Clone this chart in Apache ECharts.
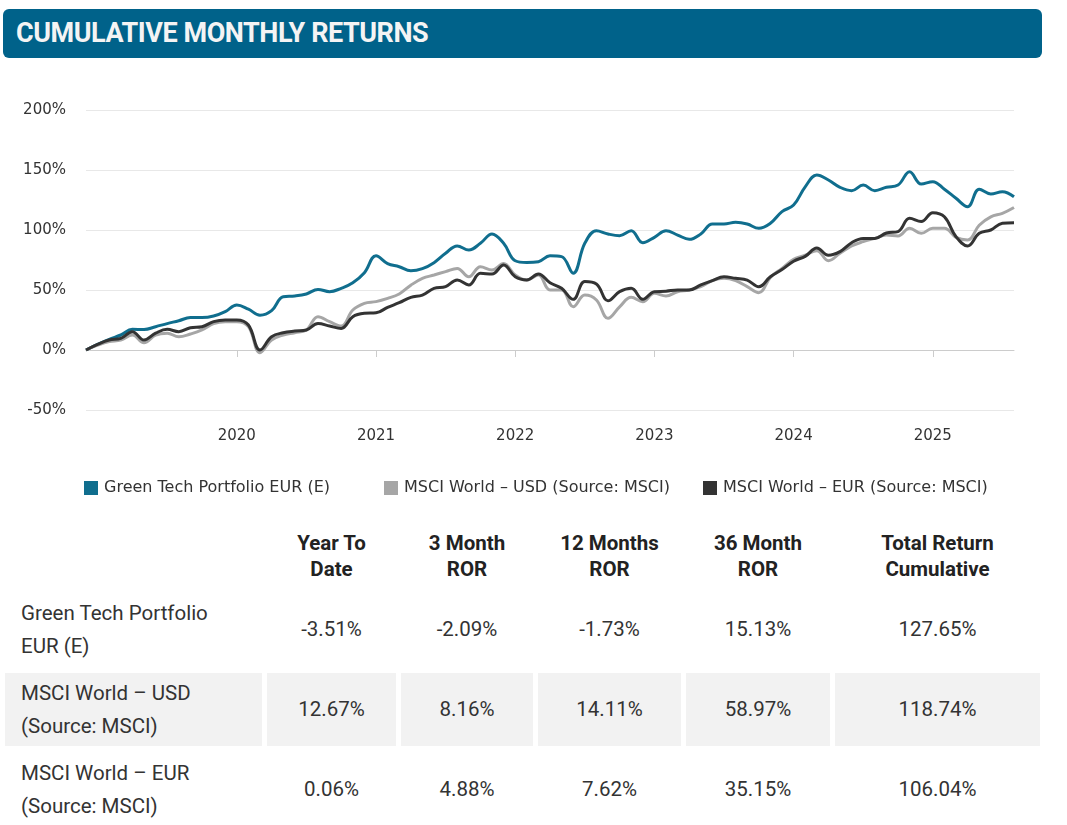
<!DOCTYPE html>
<html>
<head>
<meta charset="utf-8">
<script src="https://cdn.jsdelivr.net/npm/echarts@6/dist/echarts.min.js"></script>
<style>
  html, body { margin:0; padding:0; background:#fff; width:1067px; height:825px; overflow:hidden; }
  #title { position:absolute; left:3px; top:9px; width:1039px; height:49px; background:#00628a; border-radius:6px;
    color:#f4f4f4; font-family:Roboto, "Noto Sans", sans-serif; font-weight:700; font-size:27px; line-height:49px;
    padding-left:13px; box-sizing:border-box; letter-spacing:-0.45px; }
  #chart { position:absolute; left:0; top:0; width:1067px; height:515px; }
  table { position:absolute; left:0; top:518px; border-collapse:separate; border-spacing:5px 7px;
    font-family:Roboto, "Noto Sans", sans-serif; font-size:20.5px; color:#333; }
  th { font-weight:700; color:#222; line-height:26px; height:61px; padding:0; text-align:center; vertical-align:middle; }
  td { height:73px; padding:0; text-align:center; vertical-align:middle; line-height:33px; }
  td.name { text-align:left; padding-left:16px; box-sizing:border-box; }
  tr.shade td { background:#f2f2f2; }
</style>
</head>
<body>
<div id="chart"></div>
<div id="title">CUMULATIVE MONTHLY RETURNS</div>
<table id="tbl"></table>
<script>
// ---- data ----
const startYear = 2018, startMonth = 12, monthCount = 81;
const greenTech = [0,4.7,8.9,12.5,17.2,17,19.4,22,24.4,27,27,28.3,32,37.5,34,29,32.8,44.4,45,46.7,
  50.5,48.6,51.4,56,64.4,78.5,72,69.4,66,67.8,72.8,80.6,86.7,83.3,88.9,96.7,88.9,74.4,73,73.6,
  78.5,77.8,64,88.9,99.4,96.7,95.3,99.4,89.4,93.9,99.4,95.8,92.2,96.7,105,105,106.4,105,101.4,105.6,
  115.3,120.8,136,145.8,141.7,135.6,132.8,137.5,132.8,135.6,137.5,148.6,138.3,140.3,134,126.4,119.4,134,130,131.9,
  127.65];
const msciUsd = [0,4,7,8.3,12.5,6,12.5,14,11,13.3,16.7,22,23.6,23.6,19.4,-2.2,8.3,12.5,14.4,16.7,
  27.8,23.6,20,33.3,38.9,40.3,43,46.7,54,59.7,62.5,65.3,68,61,69.4,66.7,72,62.5,58.3,62.5,
  50,50,36,45.8,41.7,26.4,36,43.9,40.3,47.2,45,48.6,50,52.8,57.8,59.7,57.8,52.8,47.8,60.5,
  68,75.6,79,82.8,74.4,80.6,86.7,90.3,93,95.8,95,101.4,97.2,101.4,101.4,93.9,91.7,104,111,113.9,
  118.74];
const msciEur = [0,4.7,8.3,9.7,15.3,8.3,14,17.2,15.3,18.6,19.4,23.6,25,25,20.8,0,11,14.4,15.8,16.7,
  22,20,18,27.8,30.6,31,35.5,39.4,43.9,45.8,51.4,52.8,58.3,54.2,63.9,63.3,70.8,61,58.3,63.3,
  56,51.4,42.2,57,55,41,48.6,51.4,42.2,48.6,49,50,50,54.2,57.8,61,59.7,58.3,52.8,61,
  67,74,78,85,79,82,89.4,93,93,97.5,98.6,109.7,107,114.4,111,94.4,86.7,97.2,100,105.6,
  106.04];
const seriesNames = ['Green Tech Portfolio EUR (E)', 'MSCI World \u2013 USD (Source: MSCI)', 'MSCI World \u2013 EUR (Source: MSCI)'];
const yearTicks = ['2020', '2021', '2022', '2023', '2024', '2025'];
const tableHeaders = ['Year To<br>Date', '3 Month<br>ROR', '12 Months<br>ROR', '36 Month<br>ROR', 'Total Return<br>Cumulative'];
const tableRowNames = ['Green Tech Portfolio<br>EUR (E)', 'MSCI World \u2013 USD<br>(Source: MSCI)', 'MSCI World \u2013 EUR<br>(Source: MSCI)'];
const rowGreen = ['-3.51%', '-2.09%', '-1.73%', '15.13%', '127.65%'];
const rowUsd = ['12.67%', '8.16%', '14.11%', '58.97%', '118.74%'];
const rowEur = ['0.06%', '4.88%', '7.62%', '35.15%', '106.04%'];

// month labels
const months = [];
{
  let y = startYear, m = startMonth;
  for (let i = 0; i < monthCount; i++) {
    months.push(y + '-' + String(m).padStart(2, '0'));
    m++; if (m > 12) { m = 1; y++; }
  }
}

const colors = ['#106e8e', '#a6a6a6', '#333333'];
const isTick = (idx, val) => String(val).endsWith('-01') && yearTicks.includes(String(val).slice(0, 4));
const font = 'DejaVu Sans, Verdana, sans-serif';

const chart = echarts.init(document.getElementById('chart'), null, { renderer: 'canvas' });
const legendLefts = [84, 384, 703];
chart.setOption({
  animation: false,
  color: colors,
  grid: { left: 86, top: 110, width: 928, height: 300 },
  legend: seriesNames.map((n, i) => ({
    data: [n], left: legendLefts[i], top: 480, padding: 0, icon: 'rect', itemWidth: 14, itemHeight: 14, itemGap: 0,
    textStyle: { fontFamily: font, fontSize: 16, color: '#333', padding: [0, 0, 0, 1] }
  })),
  xAxis: {
    type: 'category', data: months, boundaryGap: false,
    axisLine: { lineStyle: { color: '#cccccc', width: 1 } },
    axisTick: { show: true, interval: isTick, length: 7, lineStyle: { color: '#cccccc' } },
    axisLabel: { interval: isTick, formatter: v => v.slice(0, 4), fontFamily: font, fontSize: 15, color: '#333', margin: 19 },
    splitLine: { show: false }
  },
  yAxis: {
    type: 'value', min: -50, max: 200, interval: 50,
    axisLine: { show: false }, axisTick: { show: false },
    axisLabel: { formatter: '{value}%', fontFamily: font, fontSize: 15, color: '#333', margin: 20 },
    splitLine: { lineStyle: { color: '#e8e8e8', width: 1 } }
  },
  series: [greenTech, msciUsd, msciEur].map((d, i) => ({
    name: seriesNames[i], type: 'line', data: d, smooth: 0.4, symbol: 'none',
    lineStyle: { width: 3, color: colors[i] }, itemStyle: { color: colors[i] }
  }))
});

// table
const widths = [257, 129, 132, 143, 144, 205];
let html = '<tr><th style="width:' + widths[0] + 'px"></th>' +
  tableHeaders.map((h, i) => '<th style="width:' + widths[i + 1] + 'px">' + h + '</th>').join('') + '</tr>';
[rowGreen, rowUsd, rowEur].forEach((r, ri) => {
  html += '<tr' + (ri === 1 ? ' class="shade"' : '') + '><td class="name">' + tableRowNames[ri] + '</td>' +
    r.map(v => '<td>' + v + '</td>').join('') + '</tr>';
});
document.getElementById('tbl').innerHTML = html;
</script>
</body>
</html>
